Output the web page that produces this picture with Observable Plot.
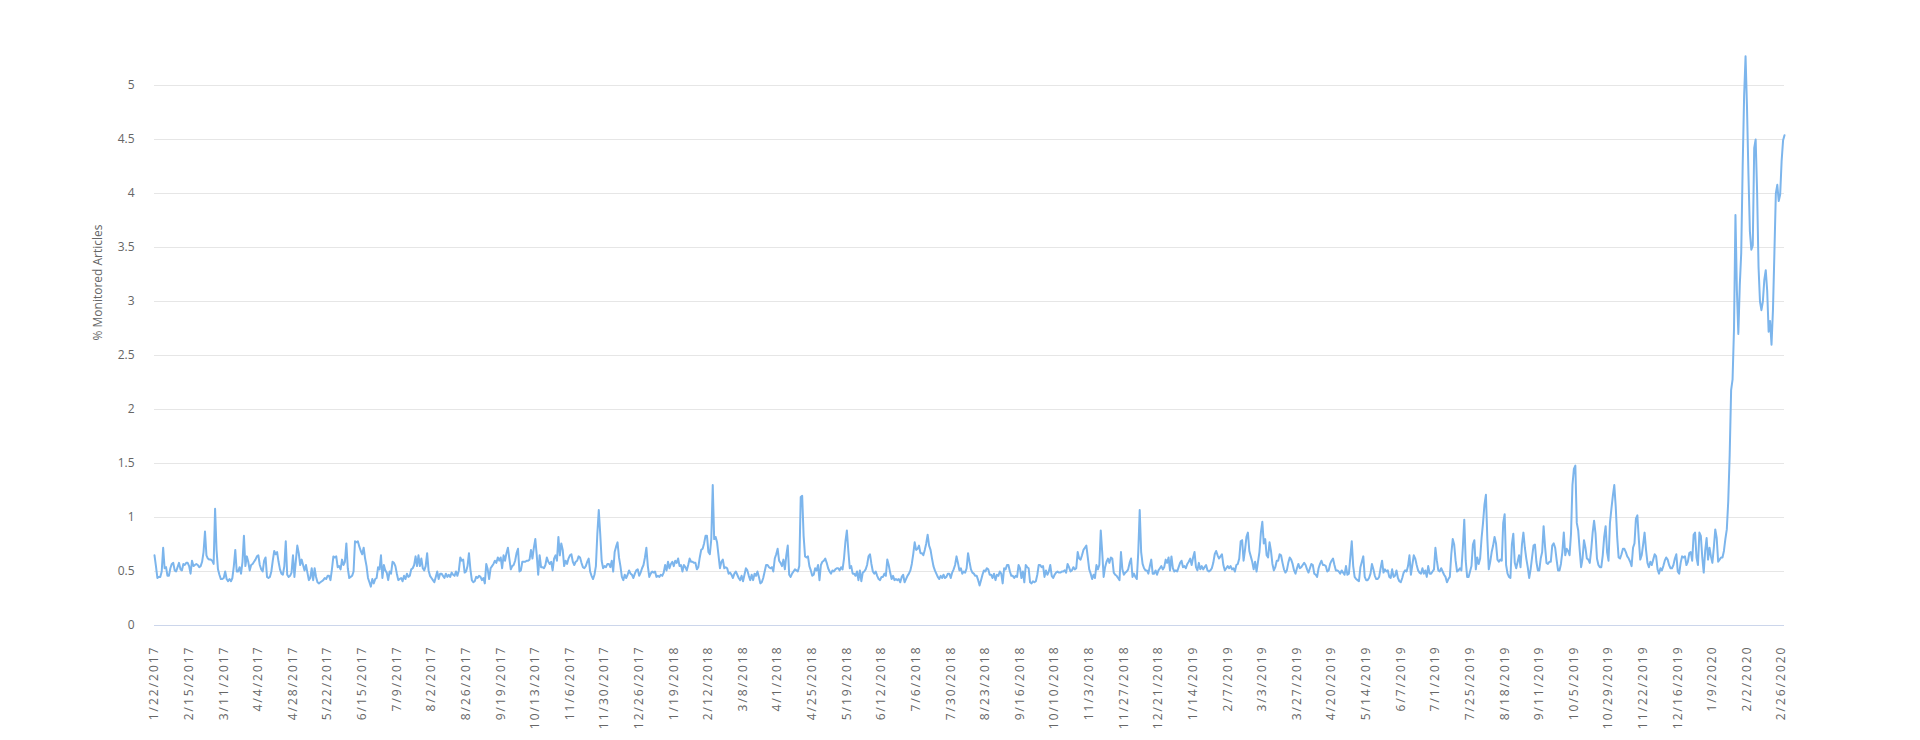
<!DOCTYPE html>
<html>
<head>
<meta charset="utf-8">
<script src="https://cdn.jsdelivr.net/npm/d3@7"></script>
<script src="https://cdn.jsdelivr.net/npm/@observablehq/plot@0.6"></script>
<style>
  html, body { margin: 0; padding: 0; background: #ffffff; }
  #chart svg g[aria-label="x-axis tick label"] text { letter-spacing: 2px; }
</style>
</head>
<body>
<div id="chart"></div>
<script>
// Daily share of monitored articles (%), 1/22/2017 .. 2/29/2020 (category index per day)
const values2017a = [
0.65,0.55,0.44,0.45,0.45,0.50,0.72,0.53,0.54,0.46,
0.46,0.53,0.57,0.58,0.51,0.50,0.54,0.58,0.52,0.51,
0.57,0.56,0.58,0.58,0.55,0.48,0.60,0.55,0.56,0.57,
0.56,0.54,0.55,0.59,0.68,0.87,0.65,0.62,0.61,0.61,
0.60,0.57,1.08,0.70,0.52,0.47,0.43,0.43,0.44,0.50,
0.43,0.41,0.43,0.41,0.44,0.55,0.70,0.50,0.50,0.54,
0.48,0.59,0.83,0.55,0.64,0.59,0.51,0.56,0.57,0.59,
0.61,0.64,0.65,0.56,0.52,0.50,0.60,0.63,0.45,0.44,
0.45,0.50,0.60,0.69,0.66,0.68,0.59,0.52,0.48,0.47,
0.55,0.78,0.47,0.45,0.46,0.49,0.65,0.45,0.60,0.74,
0.67,0.56,0.61,0.56,0.51,0.56,0.49,0.42,0.44,0.53,
0.42,0.53,0.45,0.40,0.39,0.40,0.41,0.42,0.44,0.43,
0.46,0.46,0.42,0.52,0.64,0.63,0.64,0.54,0.55,0.52,
0.61,0.56,0.59,0.76,0.53,0.44,0.45,0.46,0.50,0.78,
0.77,0.78,0.73,0.69,0.66,0.72,0.62,0.55,0.44,0.40,
0.36,0.43,0.39,0.43,0.44,0.54,0.52,0.65,0.44,0.56,
0.51,0.49,0.42,0.50,0.48,0.59,0.58,0.55,0.48,0.42,
0.43,0.44,0.41,0.46,0.43,0.48,0.45,0.46,0.52,0.53,
0.56,0.64,0.55,0.65,0.55,0.62,0.53,0.51,0.55,0.67,
0.51,0.46,0.44,0.42,0.40,0.45,0.50,0.43,0.48
];
const values2017b = [
0.48,0.46,0.44,0.48,0.45,0.47,0.45,0.49,0.47,0.46,
0.50,0.46,0.51,0.63,0.60,0.61,0.49,0.50,0.55,0.67,
0.52,0.42,0.40,0.41,0.45,0.44,0.46,0.45,0.42,0.44,
0.39,0.57,0.52,0.43,0.53,0.55,0.57,0.60,0.58,0.63,
0.60,0.63,0.53,0.65,0.60,0.67,0.72,0.62,0.52,0.55,
0.56,0.60,0.67,0.71,0.50,0.51,0.59,0.59,0.59,0.60,
0.60,0.61,0.70,0.62,0.72,0.80,0.65,0.47,0.65,0.54,
0.54,0.53,0.56,0.63,0.59,0.57,0.59,0.51,0.62,0.65,
0.60,0.82,0.65,0.76,0.70,0.55,0.60,0.57,0.62,0.65,
0.66,0.59,0.56,0.59,0.60,0.64,0.63,0.58,0.54,0.53,
0.55,0.59,0.62,0.50,0.46,0.43,0.47,0.55,0.85,1.07,
0.85,0.60,0.53,0.55,0.54,0.57,0.57,0.54,0.60,0.50,
0.68,0.73,0.77,0.63,0.55,0.45,0.42,0.47,0.44,0.47,
0.51,0.48,0.47,0.44,0.48,0.51,0.52,0.46,0.49,0.53,
0.56,0.63,0.72,0.55,0.45,0.48,0.50,0.49,0.50,0.45,
0.46,0.45,0.47,0.46,0.49,0.56,0.51,0.59,0.53,0.57,
0.59,0.55,0.60,0.58,0.62,0.55,0.56,0.50,0.56,0.54,
0.51,0.56,0.62,0.59,0.59,0.58,0.58,0.52,0.54,0.63,
0.70,0.71,0.76,0.83,0.83,0.68,0.66,0.80,1.30,0.80,
0.82,0.77,0.65,0.53,0.59,0.61,0.53
];
const values2018a = [
0.54,0.53,0.48,0.49,0.47,0.44,0.48,0.50,0.47,0.44,
0.42,0.46,0.41,0.47,0.53,0.51,0.46,0.42,0.47,0.42,
0.48,0.46,0.50,0.45,0.39,0.40,0.44,0.50,0.56,0.56,
0.54,0.53,0.54,0.50,0.62,0.66,0.71,0.60,0.58,0.55,
0.61,0.52,0.65,0.74,0.47,0.45,0.48,0.50,0.52,0.51,
0.50,0.55,1.19,1.20,0.83,0.64,0.63,0.64,0.55,0.51,
0.46,0.47,0.53,0.51,0.56,0.42,0.56,0.59,0.60,0.62,
0.58,0.53,0.50,0.48,0.51,0.50,0.52,0.53,0.53,0.51,
0.54,0.52,0.62,0.78,0.88,0.69,0.53,0.55,0.48,0.48,
0.46,0.50,0.42,0.51,0.41,0.49,0.50,0.52,0.56,0.64,
0.66,0.57,0.50,0.48,0.50,0.46,0.43,0.42,0.45,0.45,
0.48,0.46,0.61,0.56,0.49,0.43,0.46,0.42,0.43,0.42,
0.43,0.40,0.45,0.47,0.40,0.43,0.46,0.48,0.51,0.57,
0.66,0.77,0.70,0.71,0.74,0.67,0.67,0.65,0.70,0.76,
0.84,0.74,0.70,0.62,0.55,0.51,0.48,0.45,0.43,0.46,
0.44,0.47,0.44,0.45,0.48,0.48,0.44,0.49,0.52,0.56,
0.64,0.58,0.51,0.53,0.48,0.50,0.49,0.53,0.67,0.59,
0.52,0.49,0.48,0.46,0.46,0.42,0.37,0.42,0.47,0.51,
0.50,0.53,0.52,0.47,0.47,0.44,0.48,0.42,0.47,0.46,
0.50,0.48,0.39,0.53,0.52,0.56,0.56,0.50
];
const values2018b = [
0.46,0.46,0.44,0.46,0.45,0.56,0.53,0.44,0.50,0.40,
0.56,0.54,0.53,0.40,0.39,0.41,0.40,0.41,0.47,0.56,
0.56,0.54,0.55,0.45,0.51,0.47,0.50,0.56,0.46,0.44,
0.47,0.49,0.50,0.49,0.49,0.50,0.50,0.51,0.49,0.57,
0.54,0.50,0.51,0.54,0.52,0.53,0.68,0.62,0.61,0.65,
0.70,0.72,0.74,0.63,0.52,0.48,0.43,0.47,0.44,0.56,
0.52,0.56,0.88,0.68,0.45,0.54,0.59,0.62,0.58,0.63,
0.62,0.49,0.47,0.46,0.44,0.42,0.68,0.52,0.47,0.49,
0.50,0.52,0.58,0.62,0.45,0.48,0.45,0.43,0.68,1.07,
0.68,0.57,0.53,0.51,0.51,0.48,0.55,0.61,0.48,0.48,
0.51,0.47,0.51,0.53,0.55,0.52,0.54,0.61,0.58,0.63,
0.51,0.64,0.53,0.50,0.51,0.50,0.54,0.58,0.60,0.54,
0.55,0.53,0.57,0.59,0.62,0.56,0.63,0.68,0.54,0.51,
0.58,0.52,0.55,0.52,0.54,0.56,0.51,0.50,0.51,0.53,
0.58,0.66,0.69,0.65,0.62,0.64,0.66,0.56,0.51,0.53,
0.55,0.53,0.55,0.52,0.53,0.50,0.56,0.57,0.62,0.78,
0.79,0.60,0.70,0.82,0.86,0.69,0.64,0.59,0.52,0.59,
0.50,0.59,0.68,0.86,0.96,0.76,0.80,0.65,0.63,0.77,
0.69,0.57,0.51,0.54,0.60,0.60,0.66,0.65,0.58,0.52,
0.49,0.51,0.58,0.63,0.61,0.57,0.51,0.48
];
const values2019 = [
0.53,0.57,0.53,0.54,0.56,0.58,0.56,0.52,0.49,0.53,
0.57,0.56,0.48,0.47,0.45,0.53,0.57,0.60,0.56,0.56,
0.55,0.50,0.51,0.57,0.60,0.62,0.56,0.51,0.51,0.50,
0.48,0.51,0.49,0.47,0.55,0.47,0.48,0.63,0.78,0.55,
0.45,0.43,0.42,0.41,0.54,0.59,0.64,0.45,0.42,0.42,
0.44,0.48,0.57,0.52,0.46,0.43,0.43,0.45,0.53,0.60,
0.49,0.52,0.50,0.51,0.45,0.44,0.52,0.45,0.46,0.51,
0.44,0.41,0.40,0.44,0.49,0.51,0.50,0.55,0.65,0.47,
0.56,0.65,0.62,0.56,0.51,0.49,0.48,0.53,0.48,0.51,
0.45,0.55,0.48,0.48,0.50,0.52,0.72,0.60,0.51,0.50,
0.53,0.50,0.47,0.45,0.40,0.43,0.45,0.66,0.80,0.75,
0.60,0.50,0.51,0.53,0.51,0.72,0.98,0.60,0.45,0.45,
0.50,0.55,0.75,0.79,0.52,0.63,0.57,0.62,0.81,0.95,
1.12,1.21,0.80,0.52,0.59,0.68,0.74,0.82,0.76,0.61,
0.59,0.61,0.60,0.95,1.03,0.56,0.48,0.45,0.44,0.75,
0.85,0.58,0.53,0.59,0.65,0.54,0.75,0.86,0.72,0.62,
0.54,0.44,0.52,0.63,0.74,0.75,0.59,0.51,0.51,0.62,
0.68,0.92,0.73,0.58,0.57,0.59,0.59,0.74,0.76,0.72,
0.61,0.51,0.51,0.57,0.68,0.86,0.65,0.71,0.69,0.65,
0.85,1.30,1.45
];
const values2020 = [
1.48,0.95,0.88,0.70,0.54,0.62,0.79,0.72,0.62,0.61,
0.58,0.70,0.86,0.97,0.85,0.62,0.56,0.54,0.54,0.65,
0.82,0.92,0.68,0.60,0.95,1.08,1.20,1.30,1.10,0.82,
0.63,0.62,0.66,0.71,0.71,0.68,0.64,0.62,0.59,0.55,
0.72,0.76,0.99,1.02,0.80,0.61,0.65,0.75,0.86,0.70,
0.58,0.54,0.59,0.56,0.61,0.66,0.64,0.52,0.48,0.53,
0.51,0.55,0.60,0.63,0.61,0.56,0.53,0.53,0.56,0.62,
0.66,0.50,0.48,0.58,0.64,0.63,0.64,0.56,0.59,0.67,
0.68,0.60,0.84,0.86,0.63,0.56,0.86,0.83,0.63,0.49,
0.69,0.81,0.61,0.72,0.64,0.58,0.72,0.89,0.81,0.59,
0.61,0.63,0.63,0.69,0.80,0.89,1.15,1.58,2.18,2.28,
2.75,3.80,3.10,2.70,3.15,3.45,4.25,4.90,5.27,4.80,
4.18,3.65,3.48,3.52,4.42,4.50,4.02,3.32,3.00,2.92,
3.00,3.20,3.29,3.10,2.72,2.82,2.60,2.92,3.45,4.00,
4.08,3.93,3.99,4.30,4.49,4.54
];

// x-axis category labels (one every 24 categories)
const xLabels = ["1/22/2017","2/15/2017","3/11/2017","4/4/2017","4/28/2017","5/22/2017","6/15/2017","7/9/2017","8/2/2017","8/26/2017","9/19/2017","10/13/2017","11/6/2017","11/30/2017","12/26/2017","1/19/2018","2/12/2018","3/8/2018","4/1/2018","4/25/2018","5/19/2018","6/12/2018","7/6/2018","7/30/2018","8/23/2018","9/16/2018","10/10/2018","11/3/2018","11/27/2018","12/21/2018","1/14/2019","2/7/2019","3/3/2019","3/27/2019","4/20/2019","5/14/2019","6/7/2019","7/1/2019","7/25/2019","8/18/2019","9/11/2019","10/5/2019","10/29/2019","11/22/2019","12/16/2019","1/9/2020","2/2/2020","2/26/2020"];
const labelStep = 24;

// y-axis ticks
const yTicks = [0, 0.5, 1, 1.5, 2, 2.5, 3, 3.5, 4, 4.5, 5];
const yTickLabels = ["0","0.5","1","1.5","2","2.5","3","3.5","4","4.5","5"];
const yTitle = "% Monitored Articles";

const values = [].concat(values2017a, values2017b, values2018a, values2018b, values2019, values2020);
const xTickIdx = xLabels.map((_, k) => k * labelStep);

const chart = Plot.plot({
  width: 1920,
  height: 740,
  marginLeft: 154,
  marginRight: 136,
  marginTop: 31,
  marginBottom: 115,
  style: {fontFamily: "'Open Sans', sans-serif", fontSize: "12px", background: "#ffffff", color: "#666666"},
  x: {domain: [0, values.length - 1]},
  y: {domain: [0, 5.5]},
  marks: [
    Plot.gridY(yTicks, {stroke: "#e6e6e6", strokeOpacity: 1, strokeWidth: 1}),
    Plot.ruleY([0], {stroke: "#ccd6eb", strokeWidth: 1}),
    Plot.axisY(yTicks, {
      anchor: "left", tickSize: 0, tickPadding: 20, color: "#666666", fontSize: 12,
      tickFormat: d => yTickLabels[yTicks.indexOf(d)], label: null
    }),
    Plot.axisX(xTickIdx, {
      anchor: "bottom", tickSize: 0, tickPadding: 20, tickRotate: -90, color: "#666666", fontSize: 12,
      tickFormat: d => xLabels[xTickIdx.indexOf(d)], label: null
    }),
    Plot.text([yTitle], {
      frameAnchor: "left", rotate: -90, dx: -56, dy: 12, fill: "#666666", fontSize: 12
    }),
    Plot.lineY(values, {stroke: "#7cb5ec", strokeWidth: 2, strokeLinejoin: "round", strokeLinecap: "round"})
  ]
});
document.getElementById("chart").appendChild(chart);
</script>
</body>
</html>
